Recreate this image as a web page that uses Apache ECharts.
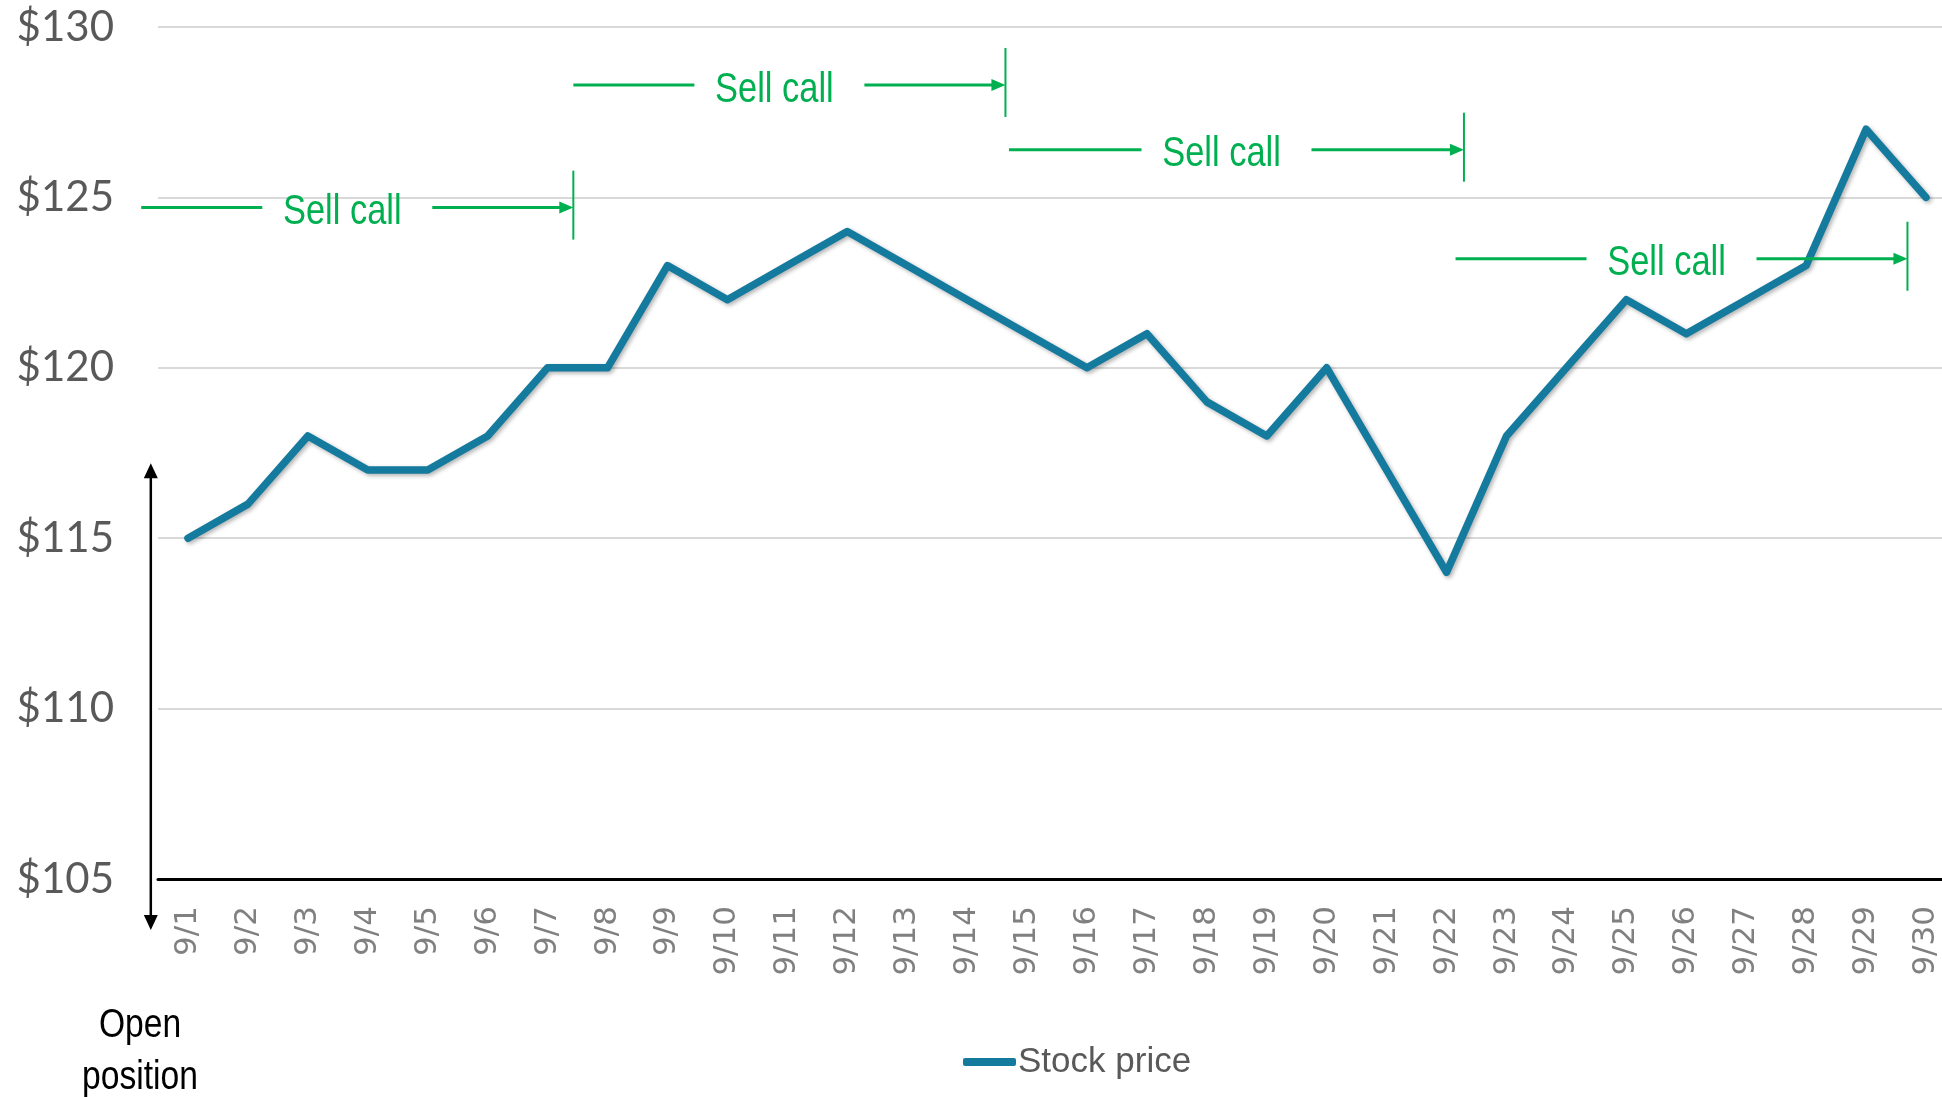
<!DOCTYPE html>
<html>
<head>
<meta charset="utf-8">
<script src="https://cdn.jsdelivr.net/npm/echarts@6.0.0/dist/echarts.min.js"></script>
<style>
  html, body { margin: 0; padding: 0; background: #fff; }
  #main { width: 1942px; height: 1097px; }
</style>
</head>
<body>
<div id="main"></div>
<script>
// categories + price series
const days = ['9/1', '9/2', '9/3', '9/4', '9/5', '9/6', '9/7', '9/8', '9/9', '9/10',
  '9/11', '9/12', '9/13', '9/14', '9/15', '9/16', '9/17', '9/18', '9/19', '9/20',
  '9/21', '9/22', '9/23', '9/24', '9/25', '9/26', '9/27', '9/28', '9/29', '9/30']
const stockPrice = [115, 116, 118, 117, 117, 118, 120, 120, 123, 122,
  123, 124, 123, 122, 121, 120, 121, 119, 118, 120,
  117, 114, 118, 120, 122, 121, 122, 123, 127, 125]

// y axis range
const yMin = 105
const yMax = 130
const yStep = 5

// "Sell call" spans: [start index, end index, price level]
const sellCalls = [
  [-0.78, 6.43, 124.7],
  [6.43, 13.64, 128.3],
  [13.7, 21.29, 126.4],
  [21.15, 28.69, 123.2]
]
// open position arrow: [index, top price, bottom price]
const openPosition = [[-0.62, 117.2, 103.5]]

const green = '#00B050'
const arial = '"Liberation Sans", Arial, sans-serif'

const chart = echarts.init(document.getElementById('main'))

const option = {
  animation: false,
  grid: {left: 158, top: 27, right: -14, bottom: 218, containLabel: false, outerBoundsMode: 'none'},
  legend: {
    data: ['Stock price'],
    left: 958,
    top: 1037,
    icon: 'roundRect',
    itemWidth: 53,
    itemHeight: 8,
    textStyle: {fontFamily: arial, fontSize: 35, color: '#595959', lineHeight: 40, padding: [0, 0, 0, -3]}
  },
  xAxis: [
    {
      type: 'category',
      data: days,
      boundaryGap: true,
      axisLine: {lineStyle: {color: '#000', width: 3}},
      axisTick: {show: false},
      axisLabel: {
        interval: 0,
        rotate: 90,
        margin: 27,
        fontFamily: 'DejaVu Sans',
        fontSize: 31,
        color: '#808080'
      }
    },
    {type: 'value', min: -0.5, max: days.length - 0.5, show: false}
  ],
  yAxis: {
    type: 'value',
    min: yMin,
    max: yMax,
    interval: yStep,
    axisLine: {show: false},
    axisTick: {show: false},
    splitLine: {lineStyle: {color: '#D9D9D9', width: 2}},
    axisLabel: {
      margin: 44,
      fontFamily: 'Lato',
      fontSize: 42,
      color: '#595959',
      formatter: v => '$' + v
    }
  },
  series: [
    {
      name: 'Stock price',
      type: 'line',
      data: stockPrice,
      symbol: 'none',
      color: '#147A9E',
      lineStyle: {
        width: 7.5,
        color: '#147A9E',
        join: 'round',
        cap: 'round',
        shadowColor: 'rgba(0,0,0,0.3)',
        shadowBlur: 4,
        shadowOffsetX: 2,
        shadowOffsetY: 2
      },
      z: 3
    },
    {
      // sell call annotations
      type: 'custom',
      xAxisIndex: 1,
      clip: false,
      silent: true,
      data: sellCalls,
      encode: {x: [0, 1], y: 2},
      z: 4,
      renderItem: function (params, api) {
        const p1 = api.coord([api.value(0), api.value(2)])
        const p2 = api.coord([api.value(1), api.value(2)])
        const y = p1[1]
        const tc = (p1[0] + p2[0]) / 2 - 15
        return {
          type: 'group',
          children: [
            {type: 'line', shape: {x1: p1[0], y1: y, x2: tc - 80, y2: y}, style: {stroke: green, lineWidth: 3}},
            {
              type: 'text', x: tc, y: y + 5, scaleX: 0.82,
              style: {text: 'Sell call', fill: green, fontFamily: arial, fontSize: 42, align: 'center', verticalAlign: 'middle'}
            },
            {type: 'line', shape: {x1: tc + 90, y1: y, x2: p2[0] - 10, y2: y}, style: {stroke: green, lineWidth: 3}},
            {type: 'polygon', shape: {points: [[p2[0] - 14, y - 6], [p2[0], y], [p2[0] - 14, y + 6]]}, style: {fill: green}},
            {type: 'line', shape: {x1: p2[0], y1: y - 37, x2: p2[0], y2: y + 32}, style: {stroke: green, lineWidth: 2}}
          ]
        }
      }
    },
    {
      // open position double arrow
      type: 'custom',
      xAxisIndex: 1,
      clip: false,
      silent: true,
      data: openPosition,
      encode: {x: 0, y: [1, 2]},
      z: 4,
      renderItem: function (params, api) {
        const top = api.coord([api.value(0), api.value(1)])
        const bot = api.coord([api.value(0), api.value(2)])
        const x = top[0]
        return {
          type: 'group',
          children: [
            {type: 'line', shape: {x1: x, y1: top[1] + 8, x2: x, y2: bot[1] - 8}, style: {stroke: '#000', lineWidth: 2.5}},
            {type: 'polygon', shape: {points: [[x - 7, top[1] + 15], [x, top[1]], [x + 7, top[1] + 15]]}, style: {fill: '#000'}},
            {type: 'polygon', shape: {points: [[x - 7, bot[1] - 15], [x, bot[1]], [x + 7, bot[1] - 15]]}, style: {fill: '#000'}}
          ]
        }
      }
    }
  ],
  graphic: [
    {
      type: 'text',
      x: 140,
      y: 1000,
      scaleX: 0.82,
      style: {
        text: 'Open\nposition',
        fill: '#000',
        fontFamily: arial,
        fontSize: 41,
        lineHeight: 52,
        align: 'center'
      }
    }
  ]
}

chart.setOption(option)
</script>
</body>
</html>
